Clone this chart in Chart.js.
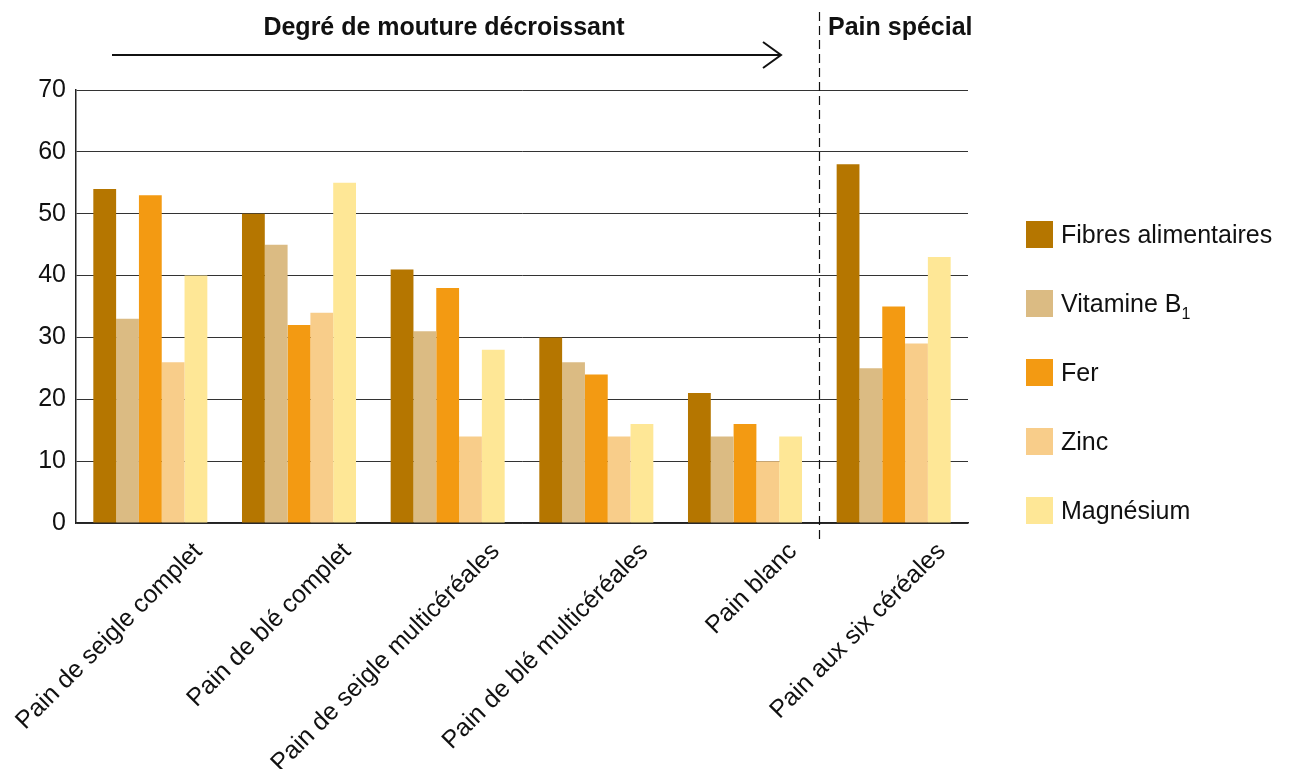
<!DOCTYPE html>
<html>
<head>
<meta charset="utf-8">
<script src="https://cdn.jsdelivr.net/npm/chart.js@4.4.0/dist/chart.umd.min.js"></script>
<style>
  body { margin: 0; background: #fff; }
  #wrap { position: relative; width: 1290px; height: 769px; }
  #legend { position: absolute; left: 1026px; top: 221px; font-family: "Liberation Sans", Arial, sans-serif; font-size: 25px; color: #111; }
  .item { display: flex; align-items: center; height: 27px; margin-bottom: 42px; white-space: nowrap; }
  .sw { width: 27px; height: 27px; margin-right: 8px; flex: none; }
  .item sub { font-size: 16px; vertical-align: -7px; line-height: 0; }
</style>
</head>
<body>
<div id="wrap">
  <canvas id="c" width="1290" height="769"></canvas>
  <div id="legend"></div>
</div>
<script>
const categories = [
  'Pain de seigle complet',
  'Pain de blé complet',
  'Pain de seigle multicéréales',
  'Pain de blé multicéréales',
  'Pain blanc',
  'Pain aux six céréales'
];
const fibres     = [54, 50, 41, 30, 21, 58];
const vitamineB1 = [33, 45, 31, 26, 14, 25];
const fer        = [53, 32, 38, 24, 16, 35];
const zinc       = [26, 34, 14, 14, 10, 29];
const magnesium  = [40, 55, 28, 16, 14, 43];
const yTicks = [0, 10, 20, 30, 40, 50, 60, 70];

const seriesNames = ['Fibres alimentaires', 'Vitamine B|1', 'Fer', 'Zinc', 'Magnésium'];
const seriesColors = ['#B57600', '#DBBB83', '#F39A12', '#F8CD8A', '#FEE796'];
const seriesData = [fibres, vitamineB1, fer, zinc, magnesium];

const FONT = '"Liberation Sans", Arial, sans-serif';

// Headings, progress arrow and the dashed separator before the special bread
const annotations = {
  id: 'annotations',
  afterDraw(chart) {
    const { ctx, scales: { x } } = chart;
    const sepX = Math.round((x.getPixelForValue(4) + x.getPixelForValue(5)) / 2) + 0.5;
    ctx.save();
    ctx.strokeStyle = '#111';
    ctx.lineWidth = 1.2;
    ctx.setLineDash([9, 5]);
    ctx.beginPath();
    ctx.moveTo(sepX, 12);
    ctx.lineTo(sepX, 540);
    ctx.stroke();
    ctx.setLineDash([]);

    ctx.lineWidth = 2;
    ctx.beginPath();
    ctx.moveTo(112, 55);
    ctx.lineTo(781, 55);
    ctx.stroke();
    ctx.beginPath();
    ctx.moveTo(763, 42);
    ctx.lineTo(781, 55);
    ctx.lineTo(763, 68);
    ctx.stroke();

    ctx.fillStyle = '#111';
    ctx.font = 'bold 25px ' + FONT;
    ctx.textBaseline = 'middle';
    ctx.textAlign = 'center';
    ctx.fillText('Degré de mouture décroissant', 444, 28);
    ctx.textAlign = 'left';
    ctx.fillText('Pain spécial', 828, 28);
    ctx.restore();
  }
};

const chart = new Chart(document.getElementById('c'), {
  type: 'bar',
  data: {
    labels: categories,
    datasets: seriesData.map((d, i) => ({
      label: seriesNames[i].replace('|', ''),
      data: d,
      backgroundColor: seriesColors[i],
      borderWidth: 0,
      categoryPercentage: 0.767,
      barPercentage: 1
    }))
  },
  options: {
    responsive: false,
    animation: false,
    layout: { padding: { top: 90, left: 0, right: 322, bottom: 0 } },
    plugins: { legend: { display: false }, tooltip: { enabled: false } },
    scales: {
      x: {
        grid: { display: false },
        border: { display: true, color: '#222', width: 1.5 },
        ticks: {
          color: '#111',
          font: { family: FONT, size: 25 },
          minRotation: 45,
          maxRotation: 45,
          autoSkip: false,
          labelOffset: 48,
          padding: 6
        },
        afterFit(scale) {
          scale.height = 246;
          scale.paddingLeft = 0;
          scale.paddingRight = 0;
        }
      },
      y: {
        min: 0,
        max: 70,
        afterBuildTicks(scale) { scale.ticks = yTicks.map(v => ({ value: v })); },
        grid: { color: '#333', lineWidth: 1, drawTicks: false },
        border: { display: true, color: '#222', width: 1.5 },
        ticks: {
          color: '#111',
          font: { family: FONT, size: 25 },
          padding: 10
        },
        afterFit(scale) {
          scale.width = 76;
          scale.paddingTop = 0;
          scale.paddingBottom = 0;
        }
      }
    }
  },
  plugins: [annotations]
});

// Legend built from the chart's datasets
const legend = document.getElementById('legend');
chart.data.datasets.forEach((ds, i) => {
  const item = document.createElement('div');
  item.className = 'item';
  const sw = document.createElement('span');
  sw.className = 'sw';
  sw.style.background = ds.backgroundColor;
  const label = document.createElement('span');
  const parts = seriesNames[i].split('|');
  label.textContent = parts[0];
  if (parts[1]) {
    const sub = document.createElement('sub');
    sub.textContent = parts[1];
    label.appendChild(sub);
  }
  item.appendChild(sw);
  item.appendChild(label);
  legend.appendChild(item);
});
</script>
</body>
</html>
